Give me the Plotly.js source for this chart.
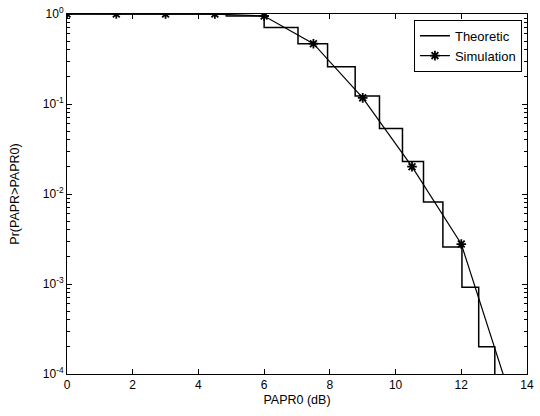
<!DOCTYPE html>
<html>
<head>
<meta charset="utf-8">
<script src="https://cdn.plot.ly/plotly-3.0.1.min.js"></script>
<style>html,body{margin:0;padding:0;background:#fff;}#chart{width:540px;height:416px;}</style>
</head>
<body>
<div id="chart"></div>
<script>
// Theoretic (stair) curve: step edges (dB) and CCDF levels
const theoX = [0, 4.85, 6.0, 7.03, 7.93, 8.77, 9.51, 10.21, 10.85, 11.44, 12.02, 12.53, 13.02, 14];
const theoY = [1, 0.95, 0.71, 0.468, 0.26, 0.123, 0.0535, 0.0229, 0.00815, 0.00258, 0.00092, 0.000201, 1e-6, 1e-6];
// Simulation points (star markers)
const simX = [0, 1.5, 3, 4.5, 6, 7.5, 9, 10.5, 12, 13.5];
const simY = [1, 1, 1, 0.999, 0.95, 0.468, 0.117, 0.0201, 0.00278, 5.5e-5];
// Tick labels
const xTicks = [0, 2, 4, 6, 8, 10, 12, 14];
const yTickVals = [1e-4, 1e-3, 1e-2, 1e-1, 1];
const yTickText = ['10<sup>-4</sup>', '10<sup>-3</sup>', '10<sup>-2</sup>', '10<sup>-1</sup>', '10<sup>0</sup>'];

const minorVals = [];
for (let d = -4; d < 0; d++) {
  for (let m = 2; m <= 9; m++) minorVals.push(m * Math.pow(10, d));
}

const font = {family: 'Liberation Sans, Arial, sans-serif', color: '#000', size: 12};

const traces = [
  {x: theoX, y: theoY, type: 'scatter', mode: 'lines', name: 'Theoretic',
   line: {color: '#000', width: 1.5, shape: 'hv'}},
  {x: simX, y: simY, type: 'scatter', mode: 'lines+markers', name: 'Simulation',
   line: {color: '#000', width: 1.2},
   marker: {symbol: 'asterisk-open', size: 8, color: '#000', line: {color: '#000', width: 1.8}}}
];

const layout = {
  width: 540, height: 416,
  margin: {l: 67, r: 13, t: 14, b: 42},
  paper_bgcolor: '#fff', plot_bgcolor: '#fff',
  font: font,
  showlegend: true,
  legend: {x: 0.989, xanchor: 'right', y: 0.984, yanchor: 'top',
           bgcolor: '#fff', bordercolor: '#000', borderwidth: 1,
           font: {family: font.family, size: 13, color: '#000'},
           tracegroupgap: 0},
  xaxis: {
    range: [0, 14], tickmode: 'array', tickvals: xTicks,
    ticks: 'inside', ticklen: 5, tickcolor: '#000', tickwidth: 1,
    showline: true, linecolor: '#000', linewidth: 1, mirror: 'ticks',
    showgrid: false, zeroline: false,
    tickfont: {family: font.family, size: 12, color: '#000'},
    title: {text: 'PAPR0 (dB)', font: {family: font.family, size: 12.5, color: '#000'}, standoff: 3}
  },
  yaxis: {
    type: 'log', range: [-4, 0],
    tickmode: 'array', tickvals: yTickVals, ticktext: yTickText,
    ticks: 'inside', ticklen: 5, tickcolor: '#000', tickwidth: 1,
    minor: {tickmode: 'array', tickvals: minorVals, ticks: 'inside', ticklen: 3, tickcolor: '#000', showgrid: false},
    showline: true, linecolor: '#000', linewidth: 1, mirror: 'ticks',
    showgrid: false, zeroline: false,
    tickfont: {family: font.family, size: 12, color: '#000'},
    title: {text: 'Pr(PAPR>PAPR0)', font: {family: font.family, size: 12.5, color: '#000'}, standoff: 20}
  }
};

Plotly.newPlot('chart', traces, layout, {staticPlot: true, displayModeBar: false});
</script>
</body>
</html>
